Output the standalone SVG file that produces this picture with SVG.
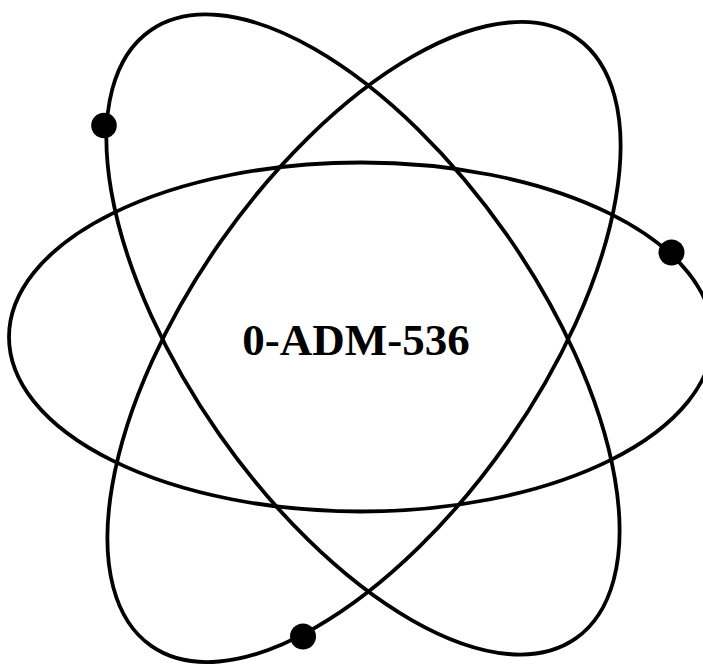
<svg xmlns="http://www.w3.org/2000/svg" width="703" height="665" viewBox="0 0 703 665">
<style>
.orbit{fill:none;stroke:#000;stroke-width:3.8}
.electron{fill:#000}
.label{font-family:"Liberation Serif","Times New Roman",serif;font-weight:bold;font-size:45px;fill:#000}
</style>
<rect width="703" height="665" fill="#fff"/>
<g id="orbits">
<ellipse id="orbit-h" class="orbit" cx="361" cy="337" rx="352" ry="174.5"/>
<ellipse id="orbit-a" class="orbit" cx="363" cy="334.5" rx="371" ry="175" transform="rotate(55 363 334.5)"/>
<ellipse id="orbit-b" class="orbit" cx="364" cy="342" rx="371" ry="175" transform="rotate(-55 364 342)"/>
</g>
<g id="electrons">
<circle id="electron-1" class="electron" cx="104" cy="125.5" r="12.8"/>
<circle id="electron-2" class="electron" cx="671.5" cy="252.5" r="13"/>
<circle id="electron-3" class="electron" cx="303" cy="636.5" r="13"/>
</g>
<g id="nucleus">
<text class="label" x="356" y="355" text-anchor="middle">0-ADM-536</text>
</g>
</svg>
